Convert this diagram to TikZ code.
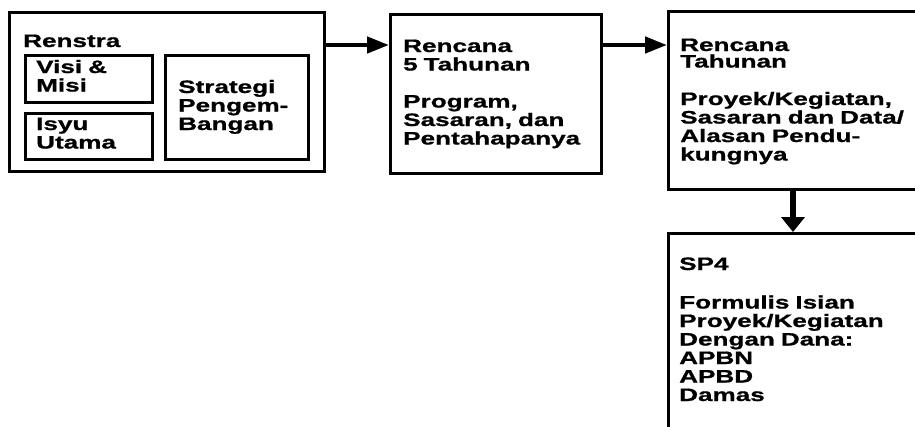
\documentclass[tikz,border=0pt]{standalone}
\usepackage{fontspec}
\setmainfont{Liberation Sans}[FakeStretch=1.45, BoldFeatures={FakeBold=1}]
\usetikzlibrary{arrows.meta}
\begin{document}
\begin{tikzpicture}[x=1pt,y=-1pt,
  every node/.style={font=\fontsize{18}{18.5}\selectfont\bfseries},
  frame/.style={draw=black, line width=3.2pt, rectangle, anchor=north west, inner sep=0pt},
  label/.style={anchor=base west, inner sep=0pt, text width=230pt, align=left},
  harrow/.style={line width=4.5pt, -{Triangle[length=22pt,width=16pt]}},
  varrow/.style={line width=6.5pt, -{Triangle[length=15pt,width=23pt]}}]
\useasboundingbox (0,0) rectangle (915,426);
\begin{scope}
\clip (0,0) rectangle (915,426);

% Renstra block with its three parts
\node[frame, minimum width=315pt, minimum height=159pt] (renstra) at (8,11) {};
\node[frame, minimum width=127.5pt, minimum height=46.5pt] (visi) at (23.5,54) {};
\node[frame, minimum width=127.5pt, minimum height=45.5pt] (isyu) at (23.5,112) {};
\node[frame, minimum width=143pt, minimum height=103.5pt] (strategi) at (164,54) {};
\node[label] (trenstra) at (23,47) {Renstra};
\node[label] (tvisi) at (36,73) {Visi \&\\Misi};
\node[label] (tisyu) at (36,130) {Isyu\\Utama};
\node[label] (tstrategi) at (178,93) {Strategi\\Pengem-\\Bangan};

% five-year plan
\node[frame, minimum width=211pt, minimum height=159pt] (lima) at (389,13) {};
\node[label] (tlima) at (403,52) {Rencana\\5 Tahunan\\[18.5pt]Program,\\Sasaran, dan\\Pentahapanya};

% annual plan
\node[frame, minimum width=273pt, minimum height=178pt] (tahunan) at (667,10) {};
\node[label] (ttahunan) at (680,51) {Rencana\\[-2pt]Tahunan\\[19pt]Proyek/Kegiatan,\\Sasaran dan Data/\\Alasan Pendu-\\kungnya};

% SP4 form
\node[frame, minimum width=273pt, minimum height=230pt] (sp) at (667,232) {};
\node[label] (tsp) at (679,270) {SP4\\[20pt]Formulis Isian\\Proyek/Kegiatan\\Dengan Dana:\\APBN\\APBD\\Damas};
\end{scope}

% connectors
\coordinate (row) at (0,45);
\coordinate (col) at (793,0);
\draw[harrow] (renstra.east |- row) -- (lima.west |- row);
\draw[harrow] (lima.east |- row) -- (tahunan.west |- row);
\draw[varrow] (tahunan.south -| col) -- (sp.north -| col);
\end{tikzpicture}
\end{document}
